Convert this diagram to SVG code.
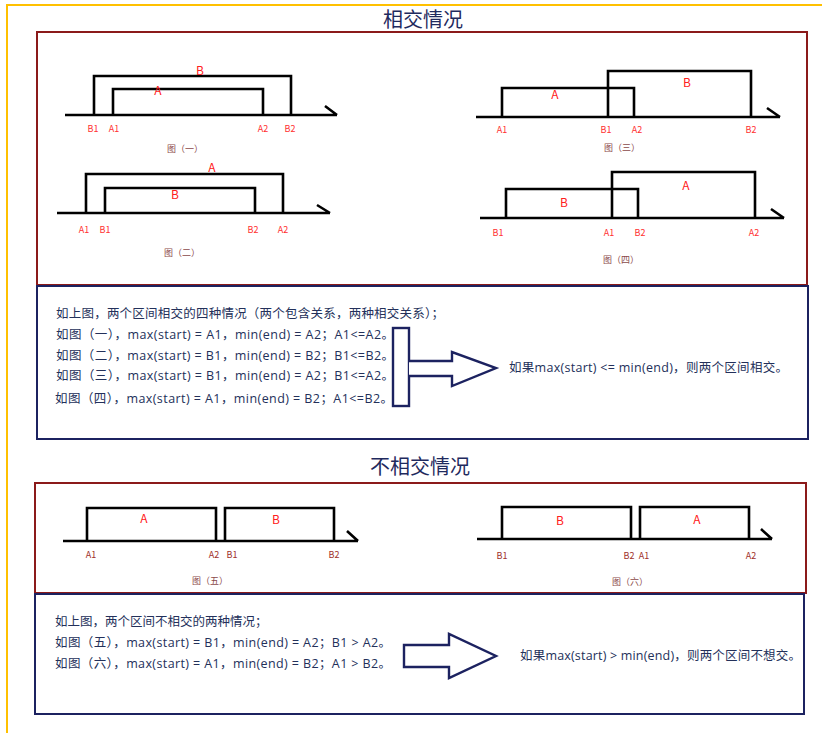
<svg xmlns="http://www.w3.org/2000/svg" width="822" height="733" viewBox="0 0 822 733">
<style>
.bg{fill:#fff}
.frame{fill:none;stroke:#FFC000;stroke-width:2}
.redbox{fill:none;stroke:#8B1A1A;stroke-width:2}
.bluebox{fill:none;stroke:#1C2260;stroke-width:2}
.ln{fill:none;stroke:#000;stroke-width:2.6}
.title{font-family:"Noto Sans CJK SC","Noto Sans",sans-serif;font-size:20px;fill:#1F2A5E;text-anchor:middle}
.lbl{font-family:"Noto Sans CJK SC","Noto Sans",sans-serif;font-size:9px;fill:#FF3030;text-anchor:middle}
.lbl2{font-family:"Noto Sans CJK SC","Noto Sans",sans-serif;font-size:9px;fill:#A0302A;text-anchor:middle}
.big{font-family:"Noto Sans CJK SC","Noto Sans",sans-serif;font-size:12px;fill:#FF2020;text-anchor:middle}
.cap{font-family:"Noto Sans CJK SC","Noto Sans",sans-serif;font-size:9px;fill:#8B4A4A;text-anchor:middle}
.txt{font-family:"Open Sans","Noto Sans CJK SC",sans-serif;font-size:12.5px;fill:#23305A}
.arrow{fill:#fff;stroke:#1C2260;stroke-width:2.4;stroke-linejoin:miter}
</style>
<rect class="bg" x="0" y="0" width="822" height="733"/>
<path class="frame" d="M7,733 V5 H822"/>

<g id="title1"><text class="title" x="423" y="27">相交情况</text></g>
<g id="box1"><rect class="redbox" x="37" y="32" width="770" height="253"/></g>

<g id="fig1">
<path class="ln" d="M65,115 H337 M325,106 L337,115"/>
<path class="ln" d="M94,115 V76 H291 V115"/>
<path class="ln" d="M113,115 V89 H263 V115"/>
<text class="big" x="200" y="75">B</text>
<text class="big" x="158" y="95">A</text>
<text class="lbl" x="93" y="132">B1</text>
<text class="lbl" x="114" y="132">A1</text>
<text class="lbl" x="263" y="132">A2</text>
<text class="lbl" x="290" y="132">B2</text>
<text class="cap" x="185" y="152">图（一）</text>
</g>

<g id="fig2">
<path class="ln" d="M57,213 H330 M317,205 L330,213"/>
<path class="ln" d="M86,213 V174 H283 V213"/>
<path class="ln" d="M105,213 V188 H255 V213"/>
<text class="big" x="212" y="172">A</text>
<text class="big" x="175" y="199">B</text>
<text class="lbl" x="84" y="233">A1</text>
<text class="lbl" x="105" y="233">B1</text>
<text class="lbl" x="253" y="233">B2</text>
<text class="lbl" x="283" y="233">A2</text>
<text class="cap" x="182" y="256">图（二）</text>
</g>

<g id="fig3">
<path class="ln" d="M476,117 H780 M767,108 L780,117"/>
<path class="ln" d="M502,117 V88 H634 V117"/>
<path class="ln" d="M608,117 V71 H751 V117"/>
<text class="big" x="555" y="99">A</text>
<text class="big" x="687" y="87">B</text>
<text class="lbl" x="502" y="133">A1</text>
<text class="lbl" x="606" y="133">B1</text>
<text class="lbl" x="637" y="133">A2</text>
<text class="lbl" x="751" y="133">B2</text>
<text class="cap" x="622" y="151">图（三）</text>
</g>

<g id="fig4">
<path class="ln" d="M480,218 H784 M771,209 L784,218"/>
<path class="ln" d="M506,218 V189 H638 V218"/>
<path class="ln" d="M612,218 V172 H755 V218"/>
<text class="big" x="564" y="207">B</text>
<text class="big" x="686" y="190">A</text>
<text class="lbl" x="498" y="236">B1</text>
<text class="lbl" x="609" y="236">A1</text>
<text class="lbl" x="640" y="236">B2</text>
<text class="lbl" x="754" y="236">A2</text>
<text class="cap" x="621" y="263">图（四）</text>
</g>

<g id="textbox1">
<rect class="bluebox" x="37" y="286" width="771" height="153"/>
<text class="txt" x="56" y="318" textLength="388">如上图，两个区间相交的四种情况（两个包含关系，两种相交关系）；</text>
<text class="txt" x="56" y="339" textLength="338">如图（一），max(start) = A1，min(end) = A2；A1&lt;=A2。</text>
<text class="txt" x="56" y="360" textLength="338">如图（二），max(start) = B1，min(end) = B2；B1&lt;=B2。</text>
<text class="txt" x="56" y="380" textLength="338">如图（三），max(start) = B1，min(end) = A2；B1&lt;=A2。</text>
<text class="txt" x="55" y="403" textLength="338">如图（四），max(start) = A1，min(end) = B2；A1&lt;=B2。</text>
<text class="txt" x="509" y="372" textLength="279">如果max(start) &lt;= min(end)，则两个区间相交。</text>
</g>

<g id="connectors">
<rect class="arrow" x="393" y="328" width="16" height="78"/>
<path class="arrow" d="M409,361 H452 V352 L496,368 L452,386 V376 H409"/>
<path class="arrow" d="M404,645 H449 V634 L496,656 L449,678 V667 H404 Z"/>
</g>

<g id="title2"><text class="title" x="420" y="474">不相交情况</text></g>
<g id="box2"><rect class="redbox" x="35" y="483" width="771" height="110"/></g>

<g id="fig5">
<path class="ln" d="M63,541 H358 M347,531 L358,541"/>
<path class="ln" d="M87,541 V508 H216 V541"/>
<path class="ln" d="M225,541 V508 H334 V541"/>
<text class="big" x="144" y="523">A</text>
<text class="big" x="276" y="524">B</text>
<text class="lbl2" x="91" y="558">A1</text>
<text class="lbl2" x="214" y="558">A2</text>
<text class="lbl2" x="232" y="558">B1</text>
<text class="lbl2" x="334" y="558">B2</text>
<text class="cap" x="210" y="584">图（五）</text>
</g>

<g id="fig6">
<path class="ln" d="M477,539 H772 M761,529 L772,539"/>
<path class="ln" d="M502,539 V507 H631 V539"/>
<path class="ln" d="M640,539 V507 H749 V539"/>
<text class="big" x="560" y="525">B</text>
<text class="big" x="697" y="524">A</text>
<text class="lbl2" x="502" y="559">B1</text>
<text class="lbl2" x="629" y="559">B2</text>
<text class="lbl2" x="644" y="559">A1</text>
<text class="lbl2" x="751" y="559">A2</text>
<text class="cap" x="630" y="585">图（六）</text>
</g>

<g id="textbox2">
<rect class="bluebox" x="35" y="594" width="769" height="120"/>
<text class="txt" x="55" y="626">如上图，两个区间不相交的两种情况；</text>
<text class="txt" x="55" y="647" textLength="336">如图（五），max(start) = B1，min(end) = A2；B1 &gt; A2。</text>
<text class="txt" x="55" y="668" textLength="336">如图（六），max(start) = A1，min(end) = B2；A1 &gt; B2。</text>
<text class="txt" x="520" y="660" textLength="281">如果max(start) &gt; min(end)，则两个区间不想交。</text>
</g>
</svg>
